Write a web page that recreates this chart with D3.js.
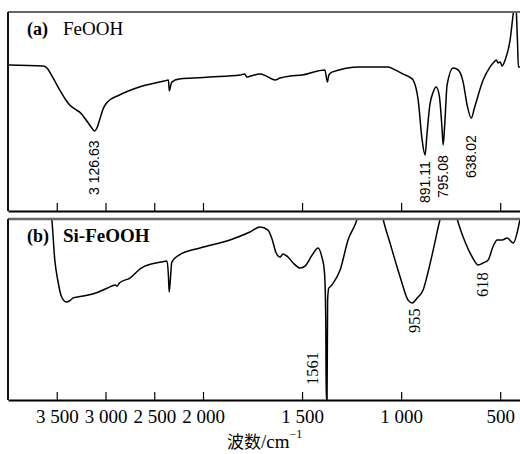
<!DOCTYPE html>
<html>
<head>
<meta charset="utf-8">
<script src="https://cdn.jsdelivr.net/npm/d3@7/dist/d3.min.js"></script>
<style>
  body { margin: 0; background: #fff; }
  svg { display: block; }
</style>
</head>
<body>
<svg id="chart" width="520" height="454"></svg>
<script>
// ---- data (wavenumber cm^-1, relative transmittance) ----
const tickValues = [3500, 3000, 2500, 2000, 1500, 1000, 500];
const tickLabels = ["3 500", "3 000", "2 500", "2 000", "1 500", "1 000", "500"];

const feoohWn = [4000,3643,3600,3560,3469,3400,3367,3300,3265,3184,3140,3112,3080,3061,3020,2980,2857,2653,2398,2355,2345,2335,2320,2245,2100,1965,1813,1790,1778,1760,1712,1680,1636,1611,1560,1500,1420,1385,1372,1365,1350,1207,1066,1030,990,950,939,914,894,879,870,855,838,823,808,793,788,780,768,737,712,687,667,646,630,586,551,531,520,510,500,490,475,450,435,428,420,413,408,400];
const feoohT  = [73.4,72.9,71.9,68.8,60.8,55.3,53.3,50.8,49.7,44.7,41.7,40.2,42.7,45.7,51.8,54.8,58.3,62.3,65.3,65.8,60.3,62.3,64.8,66.3,66.8,67.3,68.3,68.8,67.3,67.8,68.8,67.8,65.8,66.8,67.8,68.3,70.4,70.9,64.8,68.3,69.8,72.4,72.4,70.9,68.8,66.8,65.8,55.8,35.7,28.1,38.2,53.3,59.8,62.3,58.3,40.7,33.2,43.2,63.3,71.9,70.9,64.8,53.3,46.7,51.8,65.8,72.4,74.9,75.9,74.4,74.9,72.9,75.9,85.9,98.5,104,102,85.9,72.4,72.4];

const sifeoohWn = [3560,3551,3520,3490,3450,3400,3370,3330,3286,3100,2980,2900,2880,2857,2750,2633,2429,2370,2355,2347,2335,2320,2245,2031,1864,1763,1712,1672,1650,1631,1611,1596,1571,1545,1510,1485,1449,1419,1399,1389,1384,1380,1378,1374,1371,1365,1359,1343,1308,1268,1222,1200,1110,1091,1056,1005,965,944,919,889,864,838,803,780,735,717,677,641,611,586,561,535,515,490,465,434,409,400];
const sifeoohT  = [104,100,77.3,66.3,56.9,54.1,54.7,56.4,56.9,59.1,61.9,63.5,63.0,64.6,67.4,72.9,76.2,76.8,69.1,59.7,66.3,76.2,80.1,84.0,88.4,92.8,95.6,93.9,88.4,81.2,79.0,80.7,79.0,75.7,72.9,74.0,80.1,84.0,78.5,72.9,64.6,38.7,0,0,55.2,61.9,62.4,64.6,71.8,88.4,100,110,110,100,86.7,68.0,55.2,53.6,56.4,60.8,70.7,82.9,100,108,108,100,87.3,79.0,74.6,75.7,77.3,85.1,88.4,88.4,89.5,86.7,95.0,100];

const panelTitles = [["(a)", "FeOOH"], ["(b)", "Si-FeOOH"]];
const feoohPeaks = [
  {wn: 3112, label: "3 126.63", bottom: 195},
  {wn: 879,  label: "891.11",   bottom: 203},
  {wn: 788,  label: "795.08",   bottom: 198},
  {wn: 646,  label: "638.02",   bottom: 178}
];
const sifeoohPeaks = [
  {wn: 1450, label: "1561", bottom: 385},
  {wn: 934,  label: "955",  bottom: 333},
  {wn: 590,  label: "618",  bottom: 297}
];

// ---- layout ----
const svg = d3.select("#chart");
const x = d3.scaleLinear().domain([4000, 2000, 400]).range([8, 203, 520]);

const panels = [
  {top: 12, bottom: 211, wn: feoohWn, t: feoohT, peaks: feoohPeaks, font: "'Liberation Sans', Arial, sans-serif", fs: 14, topStroke: 2, labels: false},
  {top: 219, bottom: 400, wn: sifeoohWn, t: sifeoohT, peaks: sifeoohPeaks, font: "'Liberation Serif', 'Times New Roman', serif", fs: 16.5, topStroke: 2.5, labels: true}
];

panels.forEach((p, i) => {
  const y = d3.scaleLinear().domain([0, 100]).range([p.bottom, p.top]);
  const g = svg.append("g");
  const clipId = "clip" + i;
  svg.append("clipPath").attr("id", clipId)
    .append("rect").attr("x", 8).attr("y", p.top).attr("width", 512).attr("height", p.bottom - p.top);

  // spectrum
  const pts = p.wn.map((w, k) => [w, p.t[k]]);
  const line = d3.line().x(d => x(d[0])).y(d => y(d[1])).curve(d3.curveMonotoneX);
  g.append("path").datum(pts)
    .attr("clip-path", `url(#${clipId})`)
    .attr("d", line)
    .attr("fill", "none").attr("stroke", "#000").attr("stroke-width", 1.5)
    .attr("stroke-linejoin", "round");

  // frame: top (gray) and left
  g.append("line").attr("x1", 8).attr("x2", 520).attr("y1", p.top).attr("y2", p.top)
    .attr("stroke", "#666").attr("stroke-width", p.topStroke);
  g.append("line").attr("x1", 8).attr("x2", 8).attr("y1", p.top).attr("y2", p.bottom)
    .attr("stroke", "#111").attr("stroke-width", 2);

  // bottom axis with inward ticks
  const axis = d3.axisBottom(x).tickValues(tickValues)
    .tickSizeInner(-8).tickSizeOuter(0).tickPadding(9.5)
    .tickFormat((d, k) => p.labels ? tickLabels[k] : "");
  const ag = g.append("g").attr("transform", `translate(0,${p.bottom})`).call(axis);
  ag.select(".domain").attr("stroke", "#000").attr("stroke-width", 2);
  ag.selectAll(".tick line").attr("stroke", "#000").attr("stroke-width", 1.2);
  ag.selectAll(".tick text")
    .attr("font-family", "'Liberation Serif', 'Times New Roman', serif")
    .attr("font-size", 19).attr("fill", "#000");

  // panel title
  const tt = g.append("text").attr("x", 27).attr("y", p.top + 23)
    .attr("font-family", "'Liberation Serif', 'Times New Roman', serif")
    .attr("font-size", 18).attr("fill", "#000");
  tt.append("tspan").attr("font-weight", "bold").text(panelTitles[i][0]);
  tt.append("tspan").attr("x", 63).attr("font-size", 19).attr("font-weight", i === 1 ? "bold" : "normal").text(panelTitles[i][1]);

  // peak labels (rotated)
  p.peaks.forEach(pk => {
    g.append("text")
      .attr("transform", `translate(${x(pk.wn)},${pk.bottom}) rotate(-90)`)
      .attr("dy", "0.35em")
      .attr("font-family", p.font).attr("font-size", p.fs).attr("fill", "#000")
      .text(pk.label);
  });
});

// axis title
const at = svg.append("text").attr("x", 227).attr("y", 448).attr("fill", "#000");
at.append("tspan").attr("font-family", "'Noto Sans CJK SC', sans-serif").attr("font-size", 17).text("波数");
at.append("tspan").attr("font-family", "'Liberation Serif', 'Times New Roman', serif").attr("font-size", 19).text("/cm");
at.append("tspan").attr("font-family", "'Liberation Serif', 'Times New Roman', serif").attr("font-size", 12).attr("dy", -10).text("−1");
</script>
</body>
</html>
